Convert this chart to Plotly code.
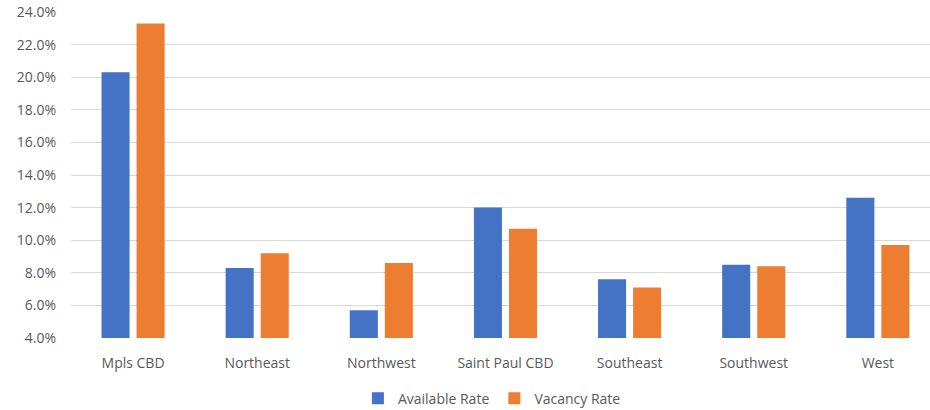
import plotly.graph_objects as go

submarkets = ["Mpls CBD", "Northeast", "Northwest", "Saint Paul CBD",
              "Southeast", "Southwest", "West"]
available_rate = [20.3, 8.3, 5.7, 12.0, 7.6, 8.5, 12.6]
vacancy_rate = [23.3, 9.2, 8.6, 10.7, 7.1, 8.4, 9.7]
y_ticks = [4, 6, 8, 10, 12, 14, 16, 18, 20, 22, 24]
y_tick_labels = [f"{v:.1f}%" for v in y_ticks]

BLUE = "#4472C4"
ORANGE = "#ED7D31"
GREY_TEXT = "#595959"
GRID = "#D9D9D9"
FONT = "Open Sans, Noto Sans, sans-serif"

fig = go.Figure()
fig.add_bar(name="Available Rate", x=submarkets, y=available_rate,
            marker=dict(color=BLUE, line=dict(width=0)), base=0)
fig.add_bar(name="Vacancy Rate", x=submarkets, y=vacancy_rate,
            marker=dict(color=ORANGE, line=dict(width=0)), base=0)

fig.update_layout(
    width=930, height=410,
    margin=dict(l=71, r=0, t=12, b=72, autoexpand=False),
    paper_bgcolor="white", plot_bgcolor="white",
    barmode="group", bargap=0.435, bargroupgap=0.2,
    font=dict(family=FONT, size=14, color=GREY_TEXT),
    showlegend=True,
    legend=dict(orientation="h", x=0.49, xanchor="center", y=-0.137,
                yanchor="top", font=dict(size=14, color=GREY_TEXT),
                itemwidth=30, traceorder="normal"),
)
fig.update_xaxes(
    type="category", range=[-0.5, 6.42], showgrid=False, zeroline=False,
    showline=False, ticks="", ticklabelstandoff=15,
    tickfont=dict(size=14, color=GREY_TEXT),
)
fig.update_yaxes(
    range=[4, 24], tickmode="array", tickvals=y_ticks, ticktext=y_tick_labels,
    showgrid=True, gridcolor=GRID, gridwidth=1, zeroline=False,
    showline=False, ticks="", ticklabelstandoff=14,
    tickfont=dict(size=14, color=GREY_TEXT),
)

fig.write_html("out.html")
